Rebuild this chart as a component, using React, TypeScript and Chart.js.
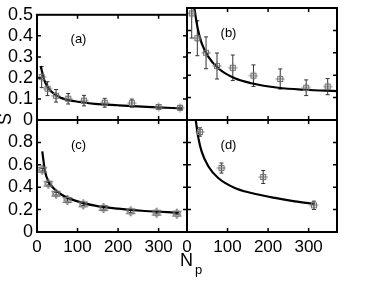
import React, { useEffect, useRef } from "react";
import { Chart, registerables } from "chart.js";
Chart.register(...registerables);

// ---- shared axes ----
const xTicks = [0, 100, 200, 300];
const xMax = 370;
const topYTicks = [0, 0.1, 0.2, 0.3, 0.4, 0.5];
const topYMax = 0.5;
const bottomYTicks = [0, 0.2, 0.4, 0.6, 0.8];
const bottomYMax = 1.0;

// ---- panel (a) ----
const aN = [11.5, 26, 47, 77, 116, 167, 234, 300, 353];
const aS = [0.204, 0.149, 0.115, 0.101, 0.092, 0.082, 0.08, 0.062, 0.058];
const aErr = [0.05, 0.033, 0.03, 0.025, 0.025, 0.021, 0.019, 0.01, 0.01];
const aFitN = [9, 20, 36, 61, 94, 143, 200, 283, 359];
const aFitS = [0.256, 0.179, 0.134, 0.104, 0.089, 0.077, 0.07, 0.061, 0.055];

// ---- panel (b) ----
const bN = [11.6, 25.5, 47, 74, 113, 164, 230, 294, 347];
const bS = [0.476, 0.365, 0.3, 0.241, 0.233, 0.198, 0.183, 0.144, 0.149];
const bErr = [0.11, 0.078, 0.071, 0.058, 0.057, 0.048, 0.045, 0.035, 0.036];
const bFitN = [18, 26.4, 36.3, 52.5, 77, 118, 159, 225, 291, 370];
const bFitS = [0.5, 0.409, 0.342, 0.283, 0.231, 0.186, 0.164, 0.144, 0.135, 0.129];

// ---- panel (c) ----
const cN = [13, 28, 47, 75, 114, 164, 231, 295, 345];
const cS = [0.556, 0.431, 0.342, 0.286, 0.247, 0.214, 0.185, 0.172, 0.164];
const cErr = [0.012, 0.012, 0.012, 0.01, 0.01, 0.01, 0.01, 0.01, 0.01];
const cFitN = [13, 19.7, 28, 40.3, 61, 94, 143, 200, 266, 350];
const cFitS = [0.72, 0.542, 0.453, 0.393, 0.333, 0.28, 0.235, 0.208, 0.1875, 0.172];

// ---- panel (d) ----
const dN = [32, 85, 188, 313];
const dS = [0.893, 0.571, 0.491, 0.238];
const dErr = [0.037, 0.045, 0.058, 0.037];
const dFitN = [21.5, 28, 36, 52.5, 77, 118, 159, 217, 266, 315];
const dFitS = [1.0, 0.84, 0.72, 0.587, 0.482, 0.393, 0.348, 0.304, 0.274, 0.25];

const FONT = '"Liberation Sans", Arial, Helvetica, sans-serif';

type Panel = {
  label: string;
  n: number[];
  s: number[];
  err: number[];
  fitN: number[];
  fitS: number[];
  yMax: number;
  yTicks: number[];
  showY: boolean;
  showX: boolean;
  marker: "box" | "star";
  pad: { left: number; top: number; right: number; bottom: number };
};

const panels: Panel[] = [
  { label: "(a)", n: aN, s: aS, err: aErr, fitN: aFitN, fitS: aFitS, yMax: topYMax, yTicks: topYTicks, showY: true, showX: false, marker: "box", pad: { left: 0, top: 8, right: 187, bottom: 161 } },
  { label: "(b)", n: bN, s: bS, err: bErr, fitN: bFitN, fitS: bFitS, yMax: topYMax, yTicks: topYTicks, showY: false, showX: false, marker: "box", pad: { left: 187, top: 8, right: 37, bottom: 161 } },
  { label: "(c)", n: cN, s: cS, err: cErr, fitN: cFitN, fitS: cFitS, yMax: bottomYMax, yTicks: bottomYTicks, showY: true, showX: true, marker: "star", pad: { left: 0, top: 120, right: 187, bottom: 24 } },
  { label: "(d)", n: dN, s: dS, err: dErr, fitN: dFitN, fitS: dFitS, yMax: bottomYMax, yTicks: bottomYTicks, showY: false, showX: true, marker: "box", pad: { left: 187, top: 120, right: 37, bottom: 24 } },
];

function makeMarker(kind: "box" | "star"): HTMLCanvasElement {
  const c = document.createElement("canvas");
  if (kind === "box") {
    c.width = 10; c.height = 10;
    const g = c.getContext("2d")!;
    g.strokeStyle = "#707070";
    g.lineWidth = 1;
    g.strokeRect(2.5, 2.5, 5, 5);
    g.beginPath();
    g.moveTo(5, 0.5); g.lineTo(5, 9.5);
    g.moveTo(0.5, 5); g.lineTo(9.5, 5);
    g.stroke();
  } else {
    c.width = 12; c.height = 12;
    const g = c.getContext("2d")!;
    g.strokeStyle = "#707070";
    g.lineWidth = 1;
    const cx = 6, cy = 6, r = 5;
    for (const off of [-Math.PI / 2, Math.PI / 2]) {
      g.beginPath();
      for (let k = 0; k < 3; k++) {
        const a = off + (k * 2 * Math.PI) / 3;
        const px = cx + r * Math.cos(a), py = cy + r * Math.sin(a);
        if (k === 0) g.moveTo(px, py); else g.lineTo(px, py);
      }
      g.closePath();
      g.stroke();
    }
  }
  return c;
}

function PanelChart({ p }: { p: Panel }) {
  const ref = useRef<HTMLCanvasElement | null>(null);
  useEffect(() => {
    if (!ref.current) return;
    const marker = makeMarker(p.marker);
    const errPlugin = {
      id: "errbars",
      beforeDatasetsDraw(chart: any) {
        const { ctx, chartArea, scales } = chart;
        ctx.save();
        ctx.beginPath();
        ctx.rect(chartArea.left, chartArea.top, chartArea.right - chartArea.left, chartArea.bottom - chartArea.top);
        ctx.clip();
        ctx.strokeStyle = "#333";
        ctx.lineWidth = 1;
        ctx.beginPath();
        p.n.forEach((n, i) => {
          const x = scales.x.getPixelForValue(n);
          const y1 = scales.y.getPixelForValue(p.s[i] - p.err[i]);
          const y2 = scales.y.getPixelForValue(p.s[i] + p.err[i]);
          ctx.moveTo(x, y1); ctx.lineTo(x, y2);
          ctx.moveTo(x - 2, y1); ctx.lineTo(x + 2, y1);
          ctx.moveTo(x - 2, y2); ctx.lineTo(x + 2, y2);
        });
        ctx.stroke();
        ctx.restore();
      },
    };
    const framePlugin = {
      id: "frame",
      afterDraw(chart: any) {
        const { ctx, chartArea, scales } = chart;
        const { left, right, top, bottom } = chartArea;
        ctx.save();
        ctx.strokeStyle = "#000";
        ctx.lineWidth = 1.5;
        const L = 4;
        ctx.beginPath();
        for (const v of xTicks) {
          const x = scales.x.getPixelForValue(v);
          if (x <= left + 1 || x >= right - 1) continue;
          ctx.moveTo(x, bottom); ctx.lineTo(x, bottom - L);
          ctx.moveTo(x, top); ctx.lineTo(x, top + L);
        }
        for (const v of p.yTicks) {
          const y = scales.y.getPixelForValue(v);
          if (y <= top + 1 || y >= bottom - 1) continue;
          ctx.moveTo(left, y); ctx.lineTo(left + L, y);
          ctx.moveTo(right, y); ctx.lineTo(right - L, y);
        }
        ctx.stroke();
        ctx.lineWidth = 2;
        ctx.strokeRect(left, top, right - left, bottom - top);
        ctx.fillStyle = "#000";
        ctx.font = "13px " + FONT;
        ctx.textAlign = "center";
        ctx.textBaseline = "middle";
        ctx.fillText(p.label, left + 41.5, top + 25);
        ctx.restore();
      },
    };
    const chart = new Chart(ref.current, {
      type: "scatter",
      data: {
        datasets: [
          {
            data: p.n.map((n, i) => ({ x: n, y: p.s[i] })),
            pointStyle: marker as any,
            pointRadius: 5,
            showLine: false,
          },
          {
            data: p.fitN.map((n, i) => ({ x: n, y: p.fitS[i] })),
            showLine: true,
            borderColor: "#000",
            borderWidth: 2.2,
            pointRadius: 0,
            cubicInterpolationMode: "monotone",
            fill: false,
          },
        ],
      },
      options: {
        animation: false,
        responsive: false,
        devicePixelRatio: 1,
        events: [],
        layout: { padding: p.pad, autoPadding: false } as any,
        plugins: { legend: { display: false }, tooltip: { enabled: false } },
        scales: {
          x: {
            type: "linear",
            min: 0,
            max: xMax,
            grid: { display: false, drawTicks: false },
            border: { display: false },
            afterBuildTicks: (s: any) => { s.ticks = xTicks.map((v) => ({ value: v })); },
            afterFit: (s: any) => { s.height = p.showX ? 25 : 0; },
            ticks: {
              display: p.showX,
              autoSkip: false,
              maxRotation: 0,
              padding: 5,
              color: "#000",
              font: { family: FONT, size: 17 },
              callback: (v: any) => String(v),
            },
          },
          y: {
            type: "linear",
            min: 0,
            max: p.yMax,
            grid: { display: false, drawTicks: false },
            border: { display: false },
            afterBuildTicks: (s: any) => { s.ticks = p.yTicks.map((v) => ({ value: v })); },
            afterFit: (s: any) => { s.width = p.showY ? 37 : 0; },
            ticks: {
              display: p.showY,
              autoSkip: false,
              padding: 4,
              color: "#000",
              font: { family: FONT, size: 18 },
              callback: (v: any) => String(v),
            },
          },
        },
      },
      plugins: [errPlugin, framePlugin],
    } as any);
    return () => chart.destroy();
  }, [p]);
  return (
    <canvas
      ref={ref}
      width={374}
      height={281}
      style={{ position: "absolute", left: 0, top: 0, width: 374, height: 281 }}
    />
  );
}

export default function App() {
  return (
    <div style={{ position: "absolute", left: 0, top: 0, width: 374, height: 281, background: "#fff", overflow: "hidden", fontFamily: FONT }}>
      {panels.map((p) => (
        <PanelChart key={p.label} p={p} />
      ))}
      <div
        style={{
          position: "absolute", left: -6, top: 108, width: 22, height: 22, lineHeight: "22px",
          fontSize: 18, textAlign: "center", transform: "rotate(-90deg)", color: "#000",
        }}
      >
        S
      </div>
      <div style={{ position: "absolute", left: 180, top: 251, fontSize: 18, lineHeight: 1, color: "#000" }}>N</div>
      <div style={{ position: "absolute", left: 195, top: 263, fontSize: 13, lineHeight: 1, color: "#000" }}>p</div>
    </div>
  );
}
